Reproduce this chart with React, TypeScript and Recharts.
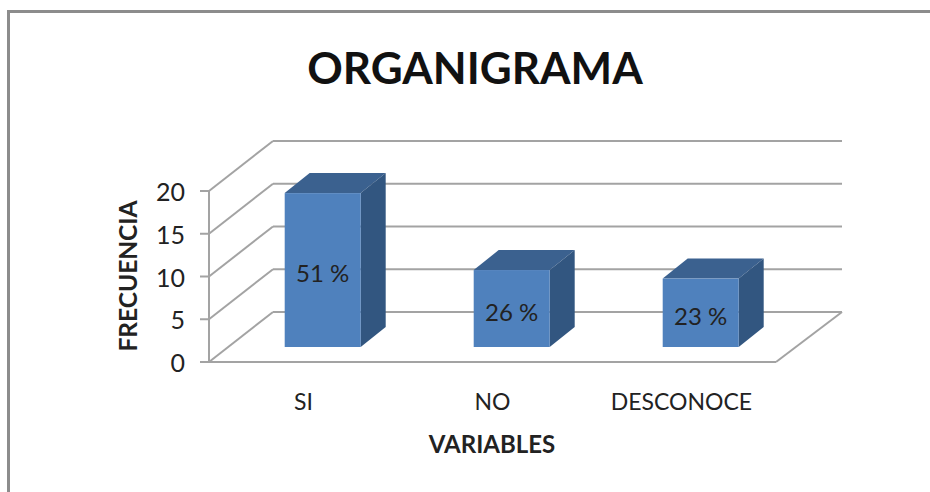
import { BarChart, Bar, CartesianGrid, XAxis, YAxis } from "recharts"

const categories = ["SI", "NO", "DESCONOCE"]
const frequency = [18, 9, 8]
const percentLabels = ["51 %", "26 %", "23 %"]
const yTicks = [0, 5, 10, 15, 20]

const data = categories.map((name, i) => ({ name, frequency: frequency[i], percent: percentLabels[i] }))

const FONT = "Lato, sans-serif"
const GRID = "#a3a3a3"
const TEXT = "#222222"

// fake 3d depth of the walls and the boxes
const WALL_DX = 64
const WALL_DY = -50
const BAR_DX = 25
const BAR_DY = -20
const BAR_SHIFT_X = 19
const BAR_SHIFT_Y = -15

const PLOT_LEFT = 209
const PLOT_RIGHT = 776

// back wall line, lives in the grid so the boxes cover it
function BackWallLine({ x1, y1, x2 }: any) {
  return (
    <line
      x1={x1 + WALL_DX}
      y1={y1 + WALL_DY}
      x2={x2 + WALL_DX + 2}
      y2={y1 + WALL_DY}
      stroke={GRID}
      strokeWidth={2}
    />
  )
}

function WallTick({ y, payload }: any) {
  const backY = y + WALL_DY
  const backX = PLOT_LEFT + WALL_DX
  return (
    <g>
      <line x1={PLOT_LEFT} y1={y} x2={backX} y2={backY} stroke={GRID} strokeWidth={2} />
      <line x1={PLOT_LEFT - 9} y1={y} x2={PLOT_LEFT} y2={y} stroke={GRID} strokeWidth={2} />
      {payload.value === 0 && (
        <line x1={PLOT_RIGHT} y1={y} x2={PLOT_RIGHT + WALL_DX + 2} y2={backY} stroke={GRID} strokeWidth={2} />
      )}
      <text x={PLOT_LEFT - 24} y={y + 10} textAnchor="end" fontFamily={FONT} fontSize={25} fill={TEXT}>
        {payload.value}
      </text>
    </g>
  )
}

function Box3D({ x, y, width, height, payload }: any) {
  const left = x + BAR_SHIFT_X
  const right = left + width
  const top = y + BAR_SHIFT_Y
  const bottom = top + height
  return (
    <g>
      <polygon
        points={`${left},${top} ${left + BAR_DX},${top + BAR_DY} ${right + BAR_DX},${top + BAR_DY} ${right},${top}`}
        fill="#3b618f"
      />
      <polygon
        points={`${right},${top} ${right + BAR_DX},${top + BAR_DY} ${right + BAR_DX},${bottom + BAR_DY} ${right},${bottom}`}
        fill="#325680"
      />
      <rect x={left} y={top} width={width} height={height} fill="#4f81bd" />
      <text
        x={left + width / 2}
        y={top + height / 2 + 12}
        textAnchor="middle"
        fontFamily={FONT}
        fontSize={24}
        fill={TEXT}
      >
        {payload.percent}
      </text>
    </g>
  )
}

export default function App() {
  return (
    <div style={{ position: "absolute", left: 0, top: 0, width: 930, height: 492, background: "#fff" }}>
      <div
        style={{
          position: "absolute",
          left: 7,
          top: 10,
          width: 923,
          height: 482,
          borderLeft: "3px solid #8c8c8c",
          borderTop: "3px solid #8c8c8c",
          boxSizing: "border-box",
        }}
      />
      <div style={{ position: "absolute", left: 0, top: 0 }}>
        <BarChart
          width={930}
          height={492}
          data={data}
          margin={{ top: 191, right: 154, left: 0, bottom: 0 }}
          barCategoryGap="30%"
        >
          <CartesianGrid vertical={false} horizontal={(props: any) => <BackWallLine key={props.key} {...props} />} />
          <YAxis
            width={209}
            domain={[0, 20]}
            ticks={yTicks}
            interval={0}
            tick={<WallTick />}
            tickLine={false}
            axisLine={{ stroke: GRID, strokeWidth: 2 }}
          />
          <XAxis
            dataKey="name"
            height={130}
            interval={0}
            tickLine={false}
            axisLine={{ stroke: GRID, strokeWidth: 2 }}
            tick={{ fontFamily: FONT, fontSize: 23, fill: TEXT, dy: 24 }}
          />
          <Bar dataKey="frequency" shape={<Box3D />} isAnimationActive={false} />
          <text x={475} y={84} textAnchor="middle" fontFamily={FONT} fontWeight={700} fontSize={44} fill="#111">
            ORGANIGRAMA
          </text>
          <text x={492} y={453} textAnchor="middle" fontFamily={FONT} fontWeight={700} fontSize={24} fill={TEXT}>
            VARIABLES
          </text>
          <text
            x={137}
            y={276}
            textAnchor="middle"
            transform="rotate(-90 137 276)"
            fontFamily={FONT}
            fontWeight={700}
            fontSize={24.5}
            fill={TEXT}
          >
            FRECUENCIA
          </text>
        </BarChart>
      </div>
    </div>
  )
}
